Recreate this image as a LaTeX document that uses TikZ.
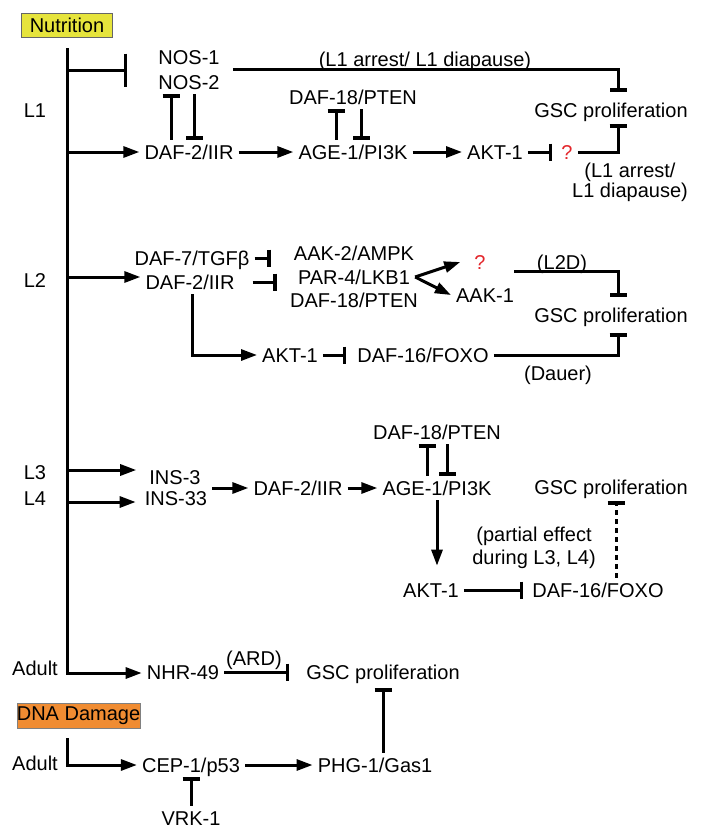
\documentclass[tikz,border=0pt]{standalone}
\usepackage{fontspec}
\setmainfont{Liberation Sans}
\usetikzlibrary{arrows.meta,calc}
\definecolor{nutY}{HTML}{E6E43C}
\definecolor{dnaO}{HTML}{F08C32}
\definecolor{qred}{HTML}{E3262B}
\begin{document}
\begin{tikzpicture}[x=1pt,y=-1pt,
  every node/.style={font=\fontsize{20pt}{22pt}\selectfont},
  t/.style={text height=14.3pt,text depth=0pt,inner xsep=5pt,inner ysep=5pt},
  ln/.style={line width=3pt},
  arr/.style={ln,-{Triangle[length=16pt,width=11pt]}},
  inh/.style={ln,-{Bar[width=17pt,line width=3.5pt]}},
  biginh/.style={ln,-{Bar[width=33pt,line width=3.5pt]}},
  qm/.style={t,text=qred},
  ml/.style={align=center,inner sep=0pt},
  boxed/.style={line width=0.6pt,inner sep=0pt},
]
\useasboundingbox (0,0) rectangle (701,839);

% ---------- sources ----------
\node[boxed,draw=black!60,fill=nutY,minimum width=91pt,minimum height=24pt] (nut) at (67,25) {Nutrition};
\coordinate (top) at ($(nut.south)+(0,11)$);
\coordinate (m0) at (67,70);
\coordinate (m1) at (67,152);
\coordinate (m2) at (67,277);
\coordinate (m3) at (67,470);
\coordinate (m4) at (67,502);
\coordinate (m5) at (67,673);

\node[t] (lL1) at (35,110) {L1};
\node[t] (lL2) at (35,280) {L2};
\node[t] (lL3) at (35,472) {L3};
\node[t] (lL4) at (35,498) {L4};
\node[t] (lad1) at (35,668) {Adult};

% ---------- L1 ----------
\node[t] (nos1) at (189,57) {NOS-1};
\node[t] (nos2) at (189,82) {NOS-2};
\node[t] (l1top) at (425,59) {(L1 arrest/ L1 diapause)};
\node[t] (gsc1) at (611,110) {GSC proliferation};
\node[t] (daf18a) at (353,97) {DAF-18/PTEN};
\node[t] (daf2a) at (189,152) {DAF-2/IIR};
\node[t] (age1a) at (353,152) {AGE-1/PI3K};
\node[t] (akt1a) at (495,152) {AKT-1};
\node[qm] (q1) at (567,152) {?};
\node[ml,font=\fontsize{20pt}{20pt}\selectfont] (l1side) at (630,182) {(L1 arrest/\\L1 diapause)};

\draw[biginh] (m0) -- ($(nos2.west |- m0)+(-26,0)$);
\draw[inh] ($(nos1.east)!.5!(nos2.east)+(8,0)$) -| ($(gsc1.north)+(7,-6)$);
\draw[inh] ($(daf2a.north)+(-18,0)$) -- ($(nos2.south)+(-18,0)$);
\draw[inh] ($(nos2.south)+(5,0)$) -- ($(daf2a.north)+(5,0)$);
\draw[arr] (m1) -- (daf2a);
\draw[arr] (daf2a) -- (age1a);
\draw[arr] (age1a) -- (akt1a);
\draw[inh] (akt1a) -- ($(q1.west)+(-4,0)$);
\draw[inh] (q1) -| ($(gsc1.south)+(7,2)$);
\draw[inh] ($(age1a.north)+(-17,0)$) -- ($(daf18a.south)+(-17,0)$);
\draw[inh] ($(daf18a.south)+(8,0)$) -- ($(age1a.north)+(8,0)$);

% ---------- L2 ----------
\node[t] (daf7) at (192,258) {DAF-7/TGFβ};
\node[t] (daf2b) at (190,282) {DAF-2/IIR};
\node[t] (aak2) at (354,253) {AAK-2/AMPK};
\node[t] (par4) at (354,277) {PAR-4/LKB1};
\node[t] (daf18b) at (354,300) {DAF-18/PTEN};
\node[qm] (q2) at (480,262) {?};
\node[t] (aak1) at (485,295) {AAK-1};
\node[t] (l2d) at (562,262) {(L2D)};
\node[t] (gsc2) at (611,315) {GSC proliferation};
\node[t] (akt1b) at (290,355) {AKT-1};
\node[t] (daf16b) at (423,355) {DAF-16/FOXO};
\node[t] (dauer) at (558,373) {(Dauer)};

\draw[arr] (m2) -- (m2 -| daf2b.west);
\draw[inh] (daf7) -- ($(aak2.west |- daf7)+(-18,0)$);
\draw[inh] ($(daf2b.east)+(13,0)$) -- ($(par4.west |- daf2b.east)+(-16,0)$);
\draw[arr] (par4.east) -- ($(q2.west)+(-9,0)$);
\draw[arr] (par4.east) -- (aak1.west);
\draw[inh] ($(aak1.north east)+(-5,-11)$) -| ($(gsc2.north)+(7,-6)$);
\draw[inh] (daf16b) -| ($(gsc2.south)+(7,6)$);
\draw[arr] ($(daf2b.south)+(2,0)$) |- (akt1b);
\draw[inh] (akt1b) -- ($(daf16b.west)+(-6,0)$);

% ---------- L3 / L4 ----------
\node[t] (ins3) at (175,477) {INS-3};
\node[t] (ins33) at (176,498) {INS-33};
\node[t] (daf2c) at (298,488) {DAF-2/IIR};
\node[t] (age1c) at (437,488) {AGE-1/PI3K};
\node[t] (daf18c) at (437,432) {DAF-18/PTEN};
\node[t] (gsc3) at (611,487) {GSC proliferation};
\node[t] (akt1c) at (431,590) {AKT-1};
\node[t] (daf16c) at (598,590) {DAF-16/FOXO};
\node[ml,font=\fontsize{20pt}{23pt}\selectfont] (partial) at (534,548) {(partial effect\\during L3, L4)};

\draw[arr] (m3) -- ($(m3 -| ins3.west)+(-8,0)$);
\draw[arr] (m4) -- ($(m4 -| ins33.west)+(-4,0)$);
\draw[arr] (ins33.east |- daf2c) -- (daf2c);
\draw[arr] (daf2c) -- (age1c);
\draw[inh] ($(age1c.north)+(-10,0)$) -- ($(daf18c.south)+(-10,0)$);
\draw[inh] ($(daf18c.south)+(10,0)$) -- ($(age1c.north)+(10,0)$);
\draw[arr] (age1c.south) -- ($(age1c.south |- akt1c.north)+(0,-12)$);
\draw[inh] (akt1c) -- ($(daf16c.west)+(-4,0)$);
\draw[inh,dash pattern=on 5pt off 4pt] ($(daf16c.north)+(18,0)$) -- ($(gsc3.south)+(5,2)$);

% ---------- Adult (nutrition) ----------
\node[t] (nhr49) at (183,672) {NHR-49};
\node[t] (ard) at (254,658) {(ARD)};
\node[t] (gsc4) at (383,672) {GSC proliferation};
\draw[arr] (top) -- (m5) -- (m5 -| nhr49.west);
\draw[inh] (nhr49) -- ($(gsc4.west)+(-12,0)$);

% ---------- DNA damage ----------
\node[boxed,draw=black!50,fill=dnaO,minimum width=123pt,minimum height=25pt] (dna) at (78.5,715.5) {DNA Damage};
\coordinate (d0) at ($(dna.south -| top)+(0,10)$);
\coordinate (d1) at (67,765);
\node[t] (lad2) at (35,763) {Adult};
\node[t] (cep1) at (191,765) {CEP-1/p53};
\node[t] (phg1) at (375,765) {PHG-1/Gas1};
\node[t] (vrk1) at (191,818) {VRK-1};

\draw[arr] (d0) -- (d1) -- (cep1);
\draw[arr] (cep1) -- (phg1);
\draw[inh] ($(phg1.north)+(8,0)$) -- ($(gsc4.south)+(0,4)$);
\draw[inh] (vrk1) -- (cep1);
\end{tikzpicture}
\end{document}
